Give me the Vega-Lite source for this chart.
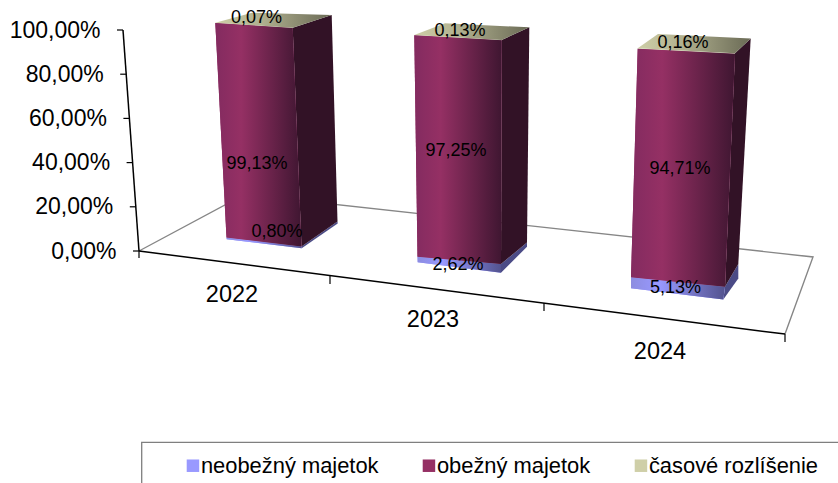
{
"$schema":"https://vega.github.io/schema/vega-lite/v6.json",
"width":718,"height":221,"autosize":"none",
"padding":{"left":120,"top":30,"right":0,"bottom":232},
"background":"white",
"config":{"view":{"stroke":null},"font":"Liberation Sans"},
"datasets":{
"bars":[
{"year":"2022","series":"neobežný majetok","value":0.80,"x":157,"y":8.6},
{"year":"2022","series":"obežný majetok","value":99.13,"x":137,"y":39.4},
{"year":"2022","series":"časové rozlíšenie","value":0.07,"x":136.5,"y":105.4},
{"year":"2023","series":"neobežný majetok","value":2.62,"x":338,"y":-6.3},
{"year":"2023","series":"obežný majetok","value":97.25,"x":336,"y":45.2},
{"year":"2023","series":"časové rozlíšenie","value":0.13,"x":340,"y":99.5},
{"year":"2024","series":"neobežný majetok","value":5.13,"x":555.5,"y":-16.7},
{"year":"2024","series":"obežný majetok","value":94.71,"x":560,"y":37.1},
{"year":"2024","series":"časové rozlíšenie","value":0.16,"x":563,"y":94.1}
],
"years":[{"year":"2022","x":112,"y":-19.9},{"year":"2023","x":313,"y":-31.2},{"year":"2024","x":540,"y":-45.7}],
"yticks":[{"v":100,"a":-3,"b":3},{"v":80,"a":0.2,"b":6.2},{"v":60,"a":3.4,"b":9.4},{"v":40,"a":6.6,"b":12.6},{"v":20,"a":9.8,"b":15.8},{"v":0,"a":13,"b":19}],
"xticks":[{"x":19,"a":0,"b":-3.2},{"x":210,"a":-11,"b":-14.9},{"x":424,"a":-23.5,"b":-27.1},{"x":665,"a":-37.6,"b":-41.2}],
"edges":[
{"edge":"yaxis","kind":"axis","v":1,"x":3,"y":100},{"edge":"yaxis","kind":"axis","v":2,"x":19,"y":0},
{"edge":"front","kind":"axis","v":1,"x":19,"y":0},{"edge":"front","kind":"axis","v":2,"x":665,"y":-37.6},
{"edge":"wall","kind":"floor","v":1,"x":19,"y":0},{"edge":"wall","kind":"floor","v":2,"x":124.6,"y":25.6},{"edge":"wall","kind":"floor","v":3,"x":693,"y":-2.7},{"edge":"wall","kind":"floor","v":4,"x":665,"y":-37.6}
],
"box":[{"x":21.7,"x2":800,"y":-86.6,"y2":-130}],
"faces":[
{"year":"2022","series":"neobežný majetok","face":"front","v":1,"x":106.5,"y":6.1},{"year":"2022","series":"neobežný majetok","face":"front","v":2,"x":181.5,"y":2.0},{"year":"2022","series":"neobežný majetok","face":"front","v":3,"x":181.7,"y":1.2},{"year":"2022","series":"neobežný majetok","face":"front","v":4,"x":106.7,"y":5.3},
{"year":"2022","series":"obežný majetok","face":"front","v":1,"x":95.3,"y":103.2},{"year":"2022","series":"obežný majetok","face":"front","v":2,"x":172.7,"y":100.9},{"year":"2022","series":"obežný majetok","face":"front","v":3,"x":181.5,"y":2.0},{"year":"2022","series":"obežný majetok","face":"front","v":4,"x":106.5,"y":6.1},
{"year":"2022","series":"časové rozlíšenie","face":"front","v":1,"x":95.3,"y":103.3},{"year":"2022","series":"časové rozlíšenie","face":"front","v":2,"x":172.7,"y":101.0},{"year":"2022","series":"časové rozlíšenie","face":"front","v":3,"x":172.7,"y":100.9},{"year":"2022","series":"časové rozlíšenie","face":"front","v":4,"x":95.3,"y":103.2},
{"year":"2022","series":"obežný majetok","face":"side","v":1,"x":172.7,"y":101.0},{"year":"2022","series":"obežný majetok","face":"side","v":2,"x":211.7,"y":106.8},{"year":"2022","series":"obežný majetok","face":"side","v":3,"x":217.5,"y":13.3},{"year":"2022","series":"obežný majetok","face":"side","v":4,"x":181.5,"y":2.0},
{"year":"2022","series":"neobežný majetok","face":"side","v":1,"x":181.5,"y":2.0},{"year":"2022","series":"neobežný majetok","face":"side","v":2,"x":217.5,"y":13.3},{"year":"2022","series":"neobežný majetok","face":"side","v":3,"x":217.7,"y":12.5},{"year":"2022","series":"neobežný majetok","face":"side","v":4,"x":181.7,"y":1.2},
{"year":"2022","series":"časové rozlíšenie","face":"top","v":1,"x":95.3,"y":103.3},{"year":"2022","series":"časové rozlíšenie","face":"top","v":2,"x":132,"y":107.8},{"year":"2022","series":"časové rozlíšenie","face":"top","v":3,"x":211.7,"y":106.8},{"year":"2022","series":"časové rozlíšenie","face":"top","v":4,"x":172.7,"y":101.0},
{"year":"2023","series":"neobežný majetok","face":"front","v":1,"x":297.5,"y":-2.6},{"year":"2023","series":"neobežný majetok","face":"front","v":2,"x":381,"y":-5.9},{"year":"2023","series":"neobežný majetok","face":"front","v":3,"x":381,"y":-9.8},{"year":"2023","series":"neobežný majetok","face":"front","v":4,"x":297.7,"y":-5.1},
{"year":"2023","series":"obežný majetok","face":"front","v":1,"x":294.3,"y":97.6},{"year":"2023","series":"obežný majetok","face":"front","v":2,"x":381.7,"y":95.4},{"year":"2023","series":"obežný majetok","face":"front","v":3,"x":381,"y":-5.9},{"year":"2023","series":"obežný majetok","face":"front","v":4,"x":297.5,"y":-2.6},
{"year":"2023","series":"časové rozlíšenie","face":"front","v":1,"x":294.3,"y":97.7},{"year":"2023","series":"časové rozlíšenie","face":"front","v":2,"x":381.7,"y":95.5},{"year":"2023","series":"časové rozlíšenie","face":"front","v":3,"x":381.7,"y":95.4},{"year":"2023","series":"časové rozlíšenie","face":"front","v":4,"x":294.3,"y":97.6},
{"year":"2023","series":"obežný majetok","face":"side","v":1,"x":381.7,"y":95.5},{"year":"2023","series":"obežný majetok","face":"side","v":2,"x":409.3,"y":101.2},{"year":"2023","series":"obežný majetok","face":"side","v":3,"x":407,"y":3.8},{"year":"2023","series":"obežný majetok","face":"side","v":4,"x":381,"y":-5.9},
{"year":"2023","series":"neobežný majetok","face":"side","v":1,"x":381,"y":-5.9},{"year":"2023","series":"neobežný majetok","face":"side","v":2,"x":407,"y":3.8},{"year":"2023","series":"neobežný majetok","face":"side","v":3,"x":407,"y":1.9},{"year":"2023","series":"neobežný majetok","face":"side","v":4,"x":381,"y":-9.8},
{"year":"2023","series":"časové rozlíšenie","face":"top","v":1,"x":294.3,"y":97.7},{"year":"2023","series":"časové rozlíšenie","face":"top","v":2,"x":325,"y":103.0},{"year":"2023","series":"časové rozlíšenie","face":"top","v":3,"x":409.3,"y":101.2},{"year":"2023","series":"časové rozlíšenie","face":"top","v":4,"x":381.7,"y":95.5},
{"year":"2024","series":"neobežný majetok","face":"front","v":1,"x":511,"y":-11.9},{"year":"2024","series":"neobežný majetok","face":"front","v":2,"x":605,"y":-16.2},{"year":"2024","series":"neobežný majetok","face":"front","v":3,"x":603.3,"y":-21.9},{"year":"2024","series":"neobežný majetok","face":"front","v":4,"x":511,"y":-16.9},
{"year":"2024","series":"obežný majetok","face":"front","v":1,"x":517.7,"y":91.5},{"year":"2024","series":"obežný majetok","face":"front","v":2,"x":615,"y":89.3},{"year":"2024","series":"obežný majetok","face":"front","v":3,"x":605,"y":-16.2},{"year":"2024","series":"obežný majetok","face":"front","v":4,"x":511,"y":-11.9},
{"year":"2024","series":"časové rozlíšenie","face":"front","v":1,"x":517.7,"y":91.7},{"year":"2024","series":"časové rozlíšenie","face":"front","v":2,"x":615,"y":89.5},{"year":"2024","series":"časové rozlíšenie","face":"front","v":3,"x":615,"y":89.3},{"year":"2024","series":"časové rozlíšenie","face":"front","v":4,"x":517.7,"y":91.5},
{"year":"2024","series":"obežný majetok","face":"side","v":1,"x":615,"y":89.5},{"year":"2024","series":"obežný majetok","face":"side","v":2,"x":630.7,"y":96.2},{"year":"2024","series":"obežný majetok","face":"side","v":3,"x":618.3,"y":-5.9},{"year":"2024","series":"obežný majetok","face":"side","v":4,"x":605,"y":-16.2},
{"year":"2024","series":"neobežný majetok","face":"side","v":1,"x":605,"y":-16.2},{"year":"2024","series":"neobežný majetok","face":"side","v":2,"x":618.3,"y":-5.9},{"year":"2024","series":"neobežný majetok","face":"side","v":3,"x":618.3,"y":-12.4},{"year":"2024","series":"neobežný majetok","face":"side","v":4,"x":603.3,"y":-21.9},
{"year":"2024","series":"časové rozlíšenie","face":"top","v":1,"x":517.7,"y":91.7},{"year":"2024","series":"časové rozlíšenie","face":"top","v":2,"x":538,"y":98.2},{"year":"2024","series":"časové rozlíšenie","face":"top","v":3,"x":630.7,"y":96.2},{"year":"2024","series":"časové rozlíšenie","face":"top","v":4,"x":615,"y":89.5}
]},
"layer":[
{"data":{"name":"box"},"mark":{"type":"rect","fillOpacity":0,"stroke":"#7f7f7f","strokeWidth":1.3},
 "encoding":{"x":{"field":"x","type":"quantitative","scale":{"domain":[0,718],"nice":false,"zero":false},"axis":null},"x2":{"field":"x2"},
 "y":{"field":"y","type":"quantitative","scale":{"domain":[0,100],"nice":false,"zero":false},
  "axis":{"title":null,"values":[0,20,40,60,80,100],"domain":false,"ticks":false,"grid":false,"labelFontSize":23,"labelColor":"#000","labelPadding":20,"labelFont":"Liberation Sans","labelExpr":"replace(format(datum.value,'.2f'),'.',',')+'%'","labelBaseline":"middle","labelFlush":false,"labelOverlap":false,"encoding":{"labels":{"dx":{"value":{"expr":"(100-datum.value)*0.16"}}}}}},"y2":{"field":"y2"}}},
{"data":{"name":"edges"},"transform":[{"filter":"datum.kind==='floor'"}],"mark":{"type":"line","stroke":"#868686","strokeWidth":1.4},
 "encoding":{"x":{"field":"x","type":"quantitative"},"y":{"field":"y","type":"quantitative"},"detail":{"field":"edge"},"order":{"field":"v"}}},
{"data":{"name":"edges"},"transform":[{"filter":"datum.kind==='axis'"}],"mark":{"type":"line","stroke":"#000","strokeWidth":1.5},
 "encoding":{"x":{"field":"x","type":"quantitative"},"y":{"field":"y","type":"quantitative"},"detail":{"field":"edge"},"order":{"field":"v"}}},
{"data":{"name":"yticks"},"mark":{"type":"rule","stroke":"#000","strokeWidth":1.2},
 "encoding":{"x":{"field":"a","type":"quantitative"},"x2":{"field":"b"},"y":{"field":"v","type":"quantitative"}}},
{"data":{"name":"xticks"},"mark":{"type":"rule","stroke":"#000","strokeWidth":1.2},
 "encoding":{"x":{"field":"x","type":"quantitative"},"y":{"field":"a","type":"quantitative"},"y2":{"field":"b"}}},
{"data":{"name":"faces"},"transform":[{"filter":"datum.face==='side' && datum.series==='neobežný majetok'"}],"mark":{"type":"line","strokeWidth":0,"fill":"#4b4b86"},
 "encoding":{"x":{"field":"x","type":"quantitative"},"y":{"field":"y","type":"quantitative"},"detail":{"field":"year"},"order":{"field":"v"}}},
{"data":{"name":"faces"},"transform":[{"filter":"datum.face==='side' && datum.series==='obežný majetok'"}],"mark":{"type":"line","strokeWidth":0,"fill":"#321226"},
 "encoding":{"x":{"field":"x","type":"quantitative"},"y":{"field":"y","type":"quantitative"},"detail":{"field":"year"},"order":{"field":"v"}}},
{"data":{"name":"faces"},"transform":[{"filter":"datum.face==='front'"}],"mark":{"type":"line","strokeWidth":0},
 "encoding":{"x":{"field":"x","type":"quantitative"},"y":{"field":"y","type":"quantitative"},"detail":{"field":"year"},"order":{"field":"v"},
 "fill":{"field":"series","type":"nominal","sort":null,
 "scale":{"domain":["neobežný majetok","obežný majetok","časové rozlíšenie"],"range":["#9999ff","#953064","#cfcfa8"]},
 "legend":{"orient":"none","legendX":62,"legendY":424.7,"direction":"horizontal","columns":3,"title":null,"symbolType":"square","symbolSize":156,"symbolStrokeWidth":0,"symbolOpacity":1,"labelFontSize":21.9,"labelFont":"Liberation Sans","labelColor":"#000","labelOffset":-3,"labelLimit":400,"columnPadding":39,"padding":0,"values":["neobežný majetok","obežný majetok","časové rozlíšenie"],
 "encoding":{"symbols":{"fill":{"value":{"expr":"datum.value==='neobežný majetok'?{gradient:'linear',x1:0,y1:0,x2:1,y2:0,stops:[{offset:0,color:'#8080d8'},{offset:1,color:'#a0a0ff'}]}:datum.value==='obežný majetok'?{gradient:'linear',x1:0,y1:0,x2:1,y2:0,stops:[{offset:0,color:'#7c2a5a'},{offset:1,color:'#9c3068'}]}:{gradient:'linear',x1:0,y1:0,x2:1,y2:0,stops:[{offset:0,color:'#d8d8b8'},{offset:1,color:'#8e8e62'}]}"}}}}}}}},
{"data":{"name":"faces"},"transform":[{"filter":"datum.face==='front' && datum.series==='neobežný majetok'"}],"mark":{"type":"line","strokeWidth":0,"fill":{"gradient":"linear","x1":0,"y1":0,"x2":1,"y2":0,"stops":[{"offset":0,"color":"#8c8ce0"},{"offset":0.3,"color":"#9999ff"},{"offset":1,"color":"#53538f"}]}},
 "encoding":{"x":{"field":"x","type":"quantitative"},"y":{"field":"y","type":"quantitative"},"detail":{"field":"year"},"order":{"field":"v"}}},
{"data":{"name":"faces"},"transform":[{"filter":"datum.face==='front' && datum.series==='obežný majetok'"}],"mark":{"type":"line","strokeWidth":0,"fill":{"gradient":"linear","x1":0,"y1":0,"x2":1,"y2":0,"stops":[{"offset":0,"color":"#832b60"},{"offset":0.3,"color":"#953064"},{"offset":1,"color":"#3f1631"}]}},
 "encoding":{"x":{"field":"x","type":"quantitative"},"y":{"field":"y","type":"quantitative"},"detail":{"field":"year"},"order":{"field":"v"}}},
{"data":{"name":"faces"},"transform":[{"filter":"datum.face==='top'"}],"mark":{"type":"line","strokeWidth":0,"fill":{"gradient":"linear","x1":0,"y1":0,"x2":1,"y2":0,"stops":[{"offset":0,"color":"#cfcfa8"},{"offset":0.4,"color":"#b0b08f"},{"offset":1,"color":"#6a6a55"}]}},
 "encoding":{"x":{"field":"x","type":"quantitative"},"y":{"field":"y","type":"quantitative"},"detail":{"field":"year"},"order":{"field":"v"}}},
{"data":{"name":"bars"},"transform":[{"calculate":"replace(format(datum.value,'.2f'),'.',',')+'%'","as":"label"}],"mark":{"type":"text","fontSize":18,"font":"Liberation Sans","color":"#000","align":"center","baseline":"middle"},
 "encoding":{"x":{"field":"x","type":"quantitative"},"y":{"field":"y","type":"quantitative"},"text":{"field":"label"}}},
{"data":{"name":"years"},"mark":{"type":"text","fontSize":23.5,"font":"Liberation Sans","color":"#000","align":"center","baseline":"middle"},
 "encoding":{"x":{"field":"x","type":"quantitative"},"y":{"field":"y","type":"quantitative"},"text":{"field":"year"}}}
]
}
